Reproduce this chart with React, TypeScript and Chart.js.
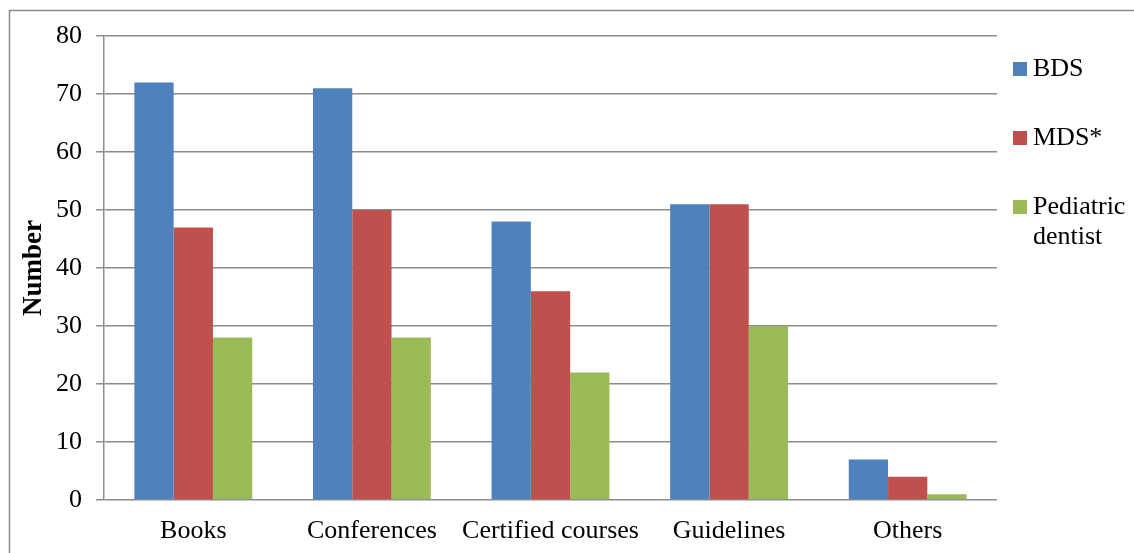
import React, { useEffect, useRef } from "react";
import { Chart, registerables } from "chart.js";

Chart.register(...registerables);

const categories = ["Books", "Conferences", "Certified courses", "Guidelines", "Others"];
const bdsValues = [72, 71, 48, 51, 7];
const mdsValues = [47, 50, 36, 51, 4];
const pediatricValues = [28, 28, 22, 30, 1];
const seriesLabels = ["BDS", "MDS*", ["Pediatric", "dentist"]];
const seriesColors = ["#4F81BD", "#C0504D", "#9BBB59"];
const yTicks = [0, 10, 20, 30, 40, 50, 60, 70, 80];

const FONT = "'Liberation Serif', 'Times New Roman', serif";

const decorPlugin = {
  id: "decor",
  beforeDraw(chart: any) {
    const ctx = chart.ctx;
    ctx.save();
    ctx.strokeStyle = "#8a8a8a";
    ctx.lineWidth = 1.5;
    ctx.beginPath();
    ctx.moveTo(9.5, 560);
    ctx.lineTo(9.5, 10.5);
    ctx.lineTo(1140, 10.5);
    ctx.stroke();
    ctx.restore();
  },
  afterDraw(chart: any) {
    const ctx = chart.ctx;
    const area = chart.chartArea;
    ctx.save();
    ctx.fillStyle = "#000";
    ctx.font = `bold 27px ${FONT}`;
    ctx.textAlign = "center";
    ctx.textBaseline = "middle";
    ctx.translate(34, (area.top + area.bottom) / 2);
    ctx.rotate(-Math.PI / 2);
    ctx.fillText("Number", 0, 0);
    ctx.restore();

    ctx.save();
    ctx.font = `26px ${FONT}`;
    ctx.textAlign = "left";
    ctx.textBaseline = "middle";
    const ys = [69, 138, 207];
    seriesLabels.forEach((lab, i) => {
      ctx.fillStyle = seriesColors[i];
      ctx.fillRect(1013, ys[i] - 7, 14, 14);
      ctx.fillStyle = "#000";
      const lines = Array.isArray(lab) ? lab : [lab];
      lines.forEach((t, j) => ctx.fillText(t, 1033, ys[i] + j * 30));
    });
    ctx.restore();
  },
};

export default function App() {
  const ref = useRef<HTMLCanvasElement>(null);
  useEffect(() => {
    if (!ref.current) return;
    const chart = new Chart(ref.current, {
      type: "bar",
      data: {
        labels: categories,
        datasets: [
          { label: "BDS", data: bdsValues, backgroundColor: seriesColors[0] },
          { label: "MDS*", data: mdsValues, backgroundColor: seriesColors[1] },
          { label: "Pediatric dentist", data: pediatricValues, backgroundColor: seriesColors[2] },
        ],
      },
      options: {
        responsive: false,
        animation: false,
        devicePixelRatio: 1,
        layout: { padding: { left: 0, top: 36, right: 137, bottom: 0 } },
        datasets: { bar: { categoryPercentage: 0.66, barPercentage: 1 } },
        plugins: { legend: { display: false }, tooltip: { enabled: false }, title: { display: false } },
        scales: {
          x: {
            grid: { display: false, drawTicks: false },
            border: { display: false },
            ticks: { color: "#000", font: { family: FONT, size: 26 }, padding: 16, maxRotation: 0, autoSkip: false },
            afterFit(scale: any) {
              scale.height = 53;
            },
          },
          y: {
            min: 0,
            max: 80,
            afterBuildTicks(scale: any) {
              scale.ticks = yTicks.map((v) => ({ value: v }));
            },
            grid: { color: "#8c8c8c", lineWidth: 1.5, tickLength: 8, drawTicks: true },
            border: { display: true, color: "#8c8c8c", width: 1.5 },
            ticks: { color: "#000", font: { family: FONT, size: 26 }, padding: 14 },
            afterFit(scale: any) {
              scale.width = 104;
            },
          },
        },
      },
      plugins: [decorPlugin],
    });
    return () => chart.destroy();
  }, []);
  return (
    <div style={{ position: "fixed", left: 0, top: 0, width: 1134, height: 553, background: "#fff" }}>
      <canvas ref={ref} width={1134} height={553} style={{ display: "block", width: 1134, height: 553 }} />
    </div>
  );
}
